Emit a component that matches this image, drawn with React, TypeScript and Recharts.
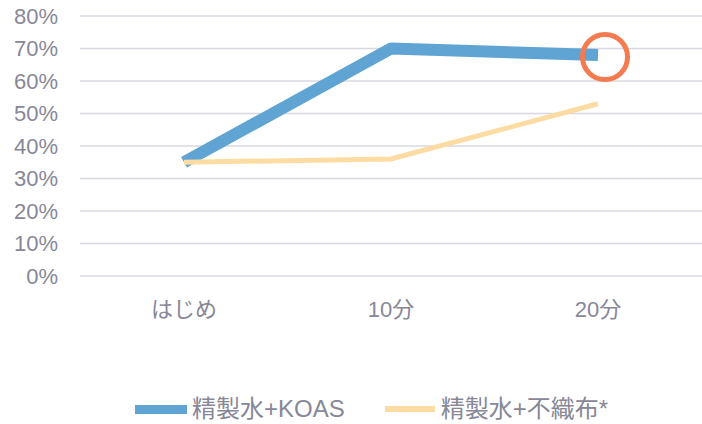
import React from "react";
import { LineChart, Line, XAxis, YAxis, CartesianGrid, Legend, ReferenceDot } from "recharts";

const categories = ["はじめ", "10分", "20分"];
const koasValues = [35, 70, 68];
const fabricValues = [35, 36, 53];
const yTicks = [0, 10, 20, 30, 40, 50, 60, 70, 80];
const seriesNames = ["精製水+KOAS", "精製水+不織布*"];
const highlightCategory = "20分";
const highlightValue = 68;

const data = categories.map((c, i) => ({
  name: c,
  koas: koasValues[i],
  fabric: fabricValues[i],
}));

const FONT = '"Liberation Sans", Arial, "Noto Sans CJK JP", sans-serif';
const TEXT = "#878797";
const BLUE = "#5FA4D2";
const YELLOW = "#FDDCA3";
const ORANGE = "#F47A50";

const LegendContent = (props: any) => {
  const payload = props.payload || [];
  return (
    <div style={{ display: "flex", alignItems: "center", height: 30, paddingLeft: 135, fontFamily: FONT, fontSize: 24, color: TEXT }}>
      {payload.map((p: any, i: number) => (
        <div key={i} style={{ display: "flex", alignItems: "center", marginRight: 40 }}>
          <div style={{ width: i === 0 ? 52 : 50, height: i === 0 ? 9 : 6, background: p.color, marginRight: i === 0 ? 5 : 6 }} />
          <span style={{ lineHeight: "30px" }}>{p.value}</span>
        </div>
      ))}
    </div>
  );
};

const Ring = (props: any) => {
  const { cx, cy } = props;
  return <circle cx={cx + 7} cy={cy + 2} r={22.5} fill="none" stroke={ORANGE} strokeWidth={5} />;
};

export default function App() {
  return (
    <div style={{ position: "absolute", left: 0, top: 0, background: "#fff" }}>
      <LineChart width={702} height={424} data={data} margin={{ top: 16, right: 0, left: 0, bottom: 0 }}>
        <CartesianGrid vertical={false} stroke="#D8D8E0" strokeWidth={1.4} />
        <XAxis
          dataKey="name"
          axisLine={false}
          tickLine={false}
          height={118}
          tickMargin={19}
          padding={{ left: 104, right: 104 }}
          tick={{ fill: TEXT, fontSize: 22, fontFamily: FONT }}
        />
        <YAxis
          domain={[0, 80]}
          ticks={yTicks}
          width={80}
          axisLine={false}
          tickLine={false}
          tickMargin={16}
          tickFormatter={(v: number) => `${v}%`}
          tick={{ fill: TEXT, fontSize: 22, fontFamily: FONT }}
        />
        <Legend verticalAlign="bottom" height={30} content={<LegendContent />} />
        <Line
          type="linear"
          dataKey="koas"
          name={seriesNames[0]}
          stroke={BLUE}
          strokeWidth={12}
          strokeLinecap="butt"
          strokeLinejoin="bevel"
          dot={false}
          activeDot={false}
          isAnimationActive={false}
        />
        <Line
          type="linear"
          dataKey="fabric"
          name={seriesNames[1]}
          stroke={YELLOW}
          strokeWidth={5}
          strokeLinecap="butt"
          dot={false}
          activeDot={false}
          isAnimationActive={false}
        />
        <ReferenceDot x={highlightCategory} y={highlightValue} shape={<Ring />} />
      </LineChart>
    </div>
  );
}
